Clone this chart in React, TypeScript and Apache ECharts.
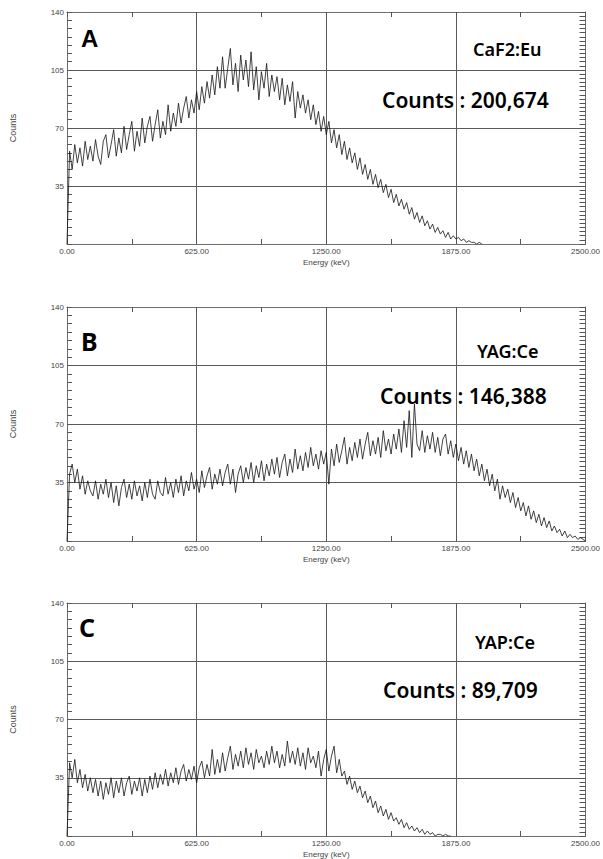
import { useEffect, useRef } from 'react';
import * as echarts from 'echarts';

// Energy channel step (keV) shared by the three spectra
const STEP = 12.5;
const X_MIN = 0;
const X_MAX = 2500;
const X_INTERVAL = 625;
const Y_MIN = 0;
const Y_MAX = 140;
const Y_INTERVAL = 35;

const panelLetters = ['A', 'B', 'C'];
const materials = ['CaF2:Eu', 'YAG:Ce', 'YAP:Ce'];
const totals = ['200,674', '146,388', '89,709'];

// A: CaF2:Eu, 0 .. 2000 keV
const countsA = [
  0, 56, 45, 60, 49, 58, 47, 62, 51, 59,
  50, 63, 53, 48, 62, 66, 52, 60, 69, 53,
  64, 55, 71, 57, 66, 74, 56, 68, 59, 76,
  61, 71, 77, 62, 72, 81, 64, 74, 66, 84,
  68, 79, 71, 85, 73, 82, 89, 76, 87, 79,
  92, 81, 95, 85, 98, 88, 102, 90, 107, 94,
  113, 94, 106, 118, 96, 109, 92, 114, 99, 111,
  95, 116, 93, 107, 87, 104, 94, 109, 89, 102,
  92, 101, 87, 100, 84, 96, 86, 98, 76, 92,
  82, 90, 79, 87, 75, 84, 72, 80, 68, 77,
  66, 74, 61, 69, 58, 66, 54, 62, 51, 58,
  49, 55, 45, 52, 42, 48, 39, 45, 36, 42,
  34, 39, 31, 36, 28, 33, 25, 30, 23, 27,
  21, 25, 18, 22, 15, 19, 13, 17, 11, 14,
  9, 12, 7, 10, 6, 8, 4, 7, 3, 5,
  3, 4, 2, 3, 1, 2, 1, 1, 0, 1, 0,
];

// B: YAG:Ce, 0 .. 2500 keV
const countsB = [
  0, 40, 46, 35, 43, 31, 39, 28, 36, 30,
  27, 36, 25, 34, 28, 37, 26, 35, 23, 33,
  21, 32, 37, 26, 34, 25, 36, 27, 33, 24,
  35, 26, 37, 28, 25, 36, 29, 27, 38, 28,
  35, 26, 37, 29, 39, 27, 36, 30, 41, 31,
  37, 29, 42, 32, 39, 44, 31, 40, 34, 43,
  33, 41, 46, 34, 43, 29, 40, 45, 35, 44,
  37, 47, 35, 45, 38, 48, 36, 46, 39, 49,
  40, 50, 38, 47, 52, 39, 49, 41, 55, 43,
  51, 42, 53, 44, 56, 45, 52, 43, 54, 46,
  53, 34, 55, 45, 58, 47, 54, 62, 46, 56,
  48, 59, 50, 61, 49, 58, 65, 51, 60, 52,
  62, 50, 66, 54, 61, 52, 64, 55, 67, 53,
  72, 56, 78, 50, 82, 58, 54, 66, 53, 63,
  55, 65, 53, 62, 51, 61, 64, 52, 60, 50,
  58, 48, 56, 46, 54, 44, 52, 42, 49, 39,
  46, 36, 43, 33, 40, 30, 37, 25, 33, 26,
  31, 23, 29, 20, 26, 18, 23, 15, 21, 13,
  18, 11, 16, 9, 14, 8, 12, 6, 9, 5,
  7, 3, 6, 2, 4, 2, 3, 1, 2, 1, 0,
];

// C: YAP:Ce, 0 .. 1850 keV
const countsC = [
  0, 44, 35, 46, 32, 40, 29, 37, 27, 35,
  26, 34, 24, 33, 22, 32, 25, 35, 23, 33,
  26, 35, 24, 32, 36, 25, 33, 27, 35, 24,
  34, 26, 36, 28, 38, 29, 37, 31, 40, 30,
  38, 32, 41, 31, 39, 43, 33, 40, 34, 42,
  32, 41, 45, 35, 43, 36, 52, 37, 46, 38,
  50, 39, 47, 54, 40, 49, 42, 51, 41, 53,
  43, 50, 40, 52, 44, 48, 41, 51, 43, 54,
  44, 51, 41, 49, 42, 57, 44, 51, 43, 53,
  42, 50, 40, 53, 44, 48, 41, 51, 36, 46,
  52, 39, 48, 54, 38, 46, 36, 39, 31, 36,
  28, 33, 26, 30, 23, 27, 20, 24, 17, 21,
  14, 18, 12, 16, 10, 14, 9, 11, 7, 10,
  5, 8, 4, 6, 3, 5, 2, 4, 1, 3,
  1, 2, 0, 1, 1, 0, 1, 0, 0,
];

const seriesCounts = [countsA, countsB, countsC];

const grids = [
  { left: 63, top: 12, width: 525, height: 232 },
  { left: 62, top: 307, width: 526, height: 234 },
  { left: 64, top: 603, width: 524, height: 234 },
];

const textPos = [
  { letter: [81, 38], mat: [473, 49], total: [382, 100] },
  { letter: [81, 341], mat: [477, 351], total: [380, 396] },
  { letter: [79, 627], mat: [475, 642], total: [383, 690] },
];

const AXIS_COLOR = '#6e6e6e';
const TICK_COLOR = '#555555';
const GRID_COLOR = '#5a5a5a';
const LABEL_FONT = 'Liberation Sans, Arial, sans-serif';
const ANNOT_FONT = 'Noto Sans, sans-serif';

export default function App() {
  const ref = useRef<HTMLDivElement>(null);

  useEffect(() => {
    if (!ref.current) return;
    const chart = echarts.init(ref.current, undefined, { renderer: 'svg' });

    const xAxis: any[] = [];
    const yAxis: any[] = [];
    const series: any[] = [];
    const graphic: any[] = [];

    const frameLine = () => ({ show: true, onZero: false, lineStyle: { color: AXIS_COLOR, width: 1 } });
    const tick = (len: number) => ({ show: true, inside: true, length: len, lineStyle: { color: TICK_COLOR, width: 1 } });
    const minor = (n: number, len: number) => ({
      show: true,
      splitNumber: n,
      length: len,
      lineStyle: { color: TICK_COLOR, width: 1 },
    });

    grids.forEach((_, i) => {
      xAxis.push({
        type: 'value',
        gridIndex: i,
        position: 'bottom',
        min: X_MIN,
        max: X_MAX,
        interval: X_INTERVAL,
        name: 'Energy (keV)',
        nameLocation: 'middle',
        nameGap: 14,
        nameTextStyle: { fontSize: 8, color: '#444', fontFamily: LABEL_FONT },
        axisLine: frameLine(),
        axisTick: tick(5),
        minorTick: minor(2, 5),
        splitLine: { show: true, lineStyle: { color: GRID_COLOR, width: 1 } },
        axisLabel: {
          fontSize: 8,
          color: '#444',
          margin: 3,
          fontFamily: LABEL_FONT,
          formatter: (v: number) => v.toFixed(2),
        },
      });
      xAxis.push({
        type: 'value',
        gridIndex: i,
        position: 'top',
        min: X_MIN,
        max: X_MAX,
        interval: X_INTERVAL,
        axisLine: frameLine(),
        axisTick: tick(5),
        minorTick: minor(2, 5),
        splitLine: { show: false },
        axisLabel: { show: false },
      });
      yAxis.push({
        type: 'value',
        gridIndex: i,
        position: 'left',
        min: Y_MIN,
        max: Y_MAX,
        interval: Y_INTERVAL,
        name: 'Counts',
        nameLocation: 'middle',
        nameGap: 50,
        nameRotate: 90,
        nameTextStyle: { fontSize: 9, color: '#444', fontFamily: LABEL_FONT },
        axisLine: frameLine(),
        axisTick: tick(5),
        minorTick: minor(7, 5),
        splitLine: { show: true, lineStyle: { color: GRID_COLOR, width: 1 } },
        axisLabel: {
          fontSize: 8,
          color: '#444',
          margin: 3,
          fontFamily: LABEL_FONT,
          showMinLabel: false,
        },
      });
      yAxis.push({
        type: 'value',
        gridIndex: i,
        position: 'right',
        min: Y_MIN,
        max: Y_MAX,
        interval: Y_INTERVAL,
        axisLine: frameLine(),
        axisTick: tick(6),
        minorTick: minor(14, 6),
        splitLine: { show: false },
        axisLabel: { show: false },
      });
      series.push({
        type: 'line',
        xAxisIndex: 2 * i,
        yAxisIndex: 2 * i,
        showSymbol: false,
        symbol: 'none',
        lineStyle: { color: '#151515', width: 0.8 },
        data: seriesCounts[i].map((v, k) => [k * STEP, v]),
      });

      const p = textPos[i];
      graphic.push({
        type: 'text',
        x: p.letter[0],
        y: p.letter[1],
        style: {
          text: panelLetters[i],
          fill: '#000',
          font: i === 0 ? `bold 24px ${LABEL_FONT}` : `bold 25px ${ANNOT_FONT}`,
          textAlign: 'left',
          textVerticalAlign: 'middle',
        },
      });
      graphic.push({
        type: 'text',
        x: p.mat[0],
        y: p.mat[1],
        style: {
          text: materials[i],
          fill: '#000',
          font: `600 18px ${ANNOT_FONT}`,
          textAlign: 'left',
          textVerticalAlign: 'middle',
        },
      });
      graphic.push({
        type: 'text',
        x: p.total[0],
        y: p.total[1],
        style: {
          text: `Counts : ${totals[i]}`,
          fill: '#000',
          font: `600 21px ${ANNOT_FONT}`,
          textAlign: 'left',
          textVerticalAlign: 'middle',
        },
      });
    });

    chart.setOption({
      animation: false,
      backgroundColor: '#fff',
      grid: grids.map((g) => ({ ...g, containLabel: false })),
      xAxis,
      yAxis,
      series,
      graphic,
    });

    return () => chart.dispose();
  }, []);

  return (
    <div
      ref={ref}
      style={{ position: 'absolute', left: 0, top: 0, width: 603, height: 859, background: '#fff' }}
    />
  );
}
